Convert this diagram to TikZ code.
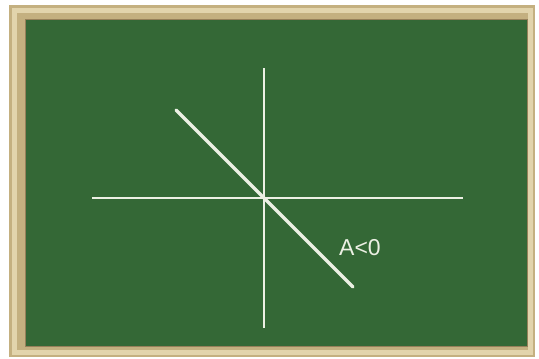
\documentclass[tikz,border=0pt]{standalone}
\usepackage{fontspec}
\setmainfont{Liberation Sans}
\usetikzlibrary{positioning}

\definecolor{board}{RGB}{52,104,54}
\definecolor{wood}{RGB}{196,176,128}
\definecolor{woodlight}{RGB}{226,212,172}
\definecolor{wooddark}{RGB}{120,96,64}
\definecolor{chalk}{RGB}{236,240,228}

\begin{document}
\begin{tikzpicture}[
        x=1pt, y=-1pt,
        axis/.style={draw=chalk, line width=2pt},
        graphline/.style={draw=chalk, line width=3.5pt, line cap=round},
        lbl/.style={text=chalk, font=\fontsize{23}{26}\selectfont, inner sep=0pt}
    ]
        \useasboundingbox (0,0) rectangle (539,359);
        \fill[white] (0,0) rectangle (539,359);
        % frame
        \fill[wood] (9,5) rectangle (535,357);
        \draw[woodlight, line width=5pt] (14,10) rectangle (530,352);
        \draw[wooddark!60!wood, line width=1.5pt] (25.5,19.5) rectangle (527.5,346.5);
        \fill[board] (26,20) rectangle (527,346);
        % axes
        \coordinate (o) at (264,198);
        \coordinate (xl) at (92,198);
        \coordinate (xr) at (463,198);
        \coordinate (yt) at (264,68);
        \coordinate (yb) at (264,328);
        \draw[axis] (xl) -- (xr);
        \draw[axis] (yt) -- (yb);
        % line with A<0
        \coordinate (p) at (176,110);
        \coordinate (q) at (353,287);
        \draw[graphline] (p) -- (q);
        \node[lbl] (alabel) at (360,248) {A<0};
    \end{tikzpicture}
\end{document}
